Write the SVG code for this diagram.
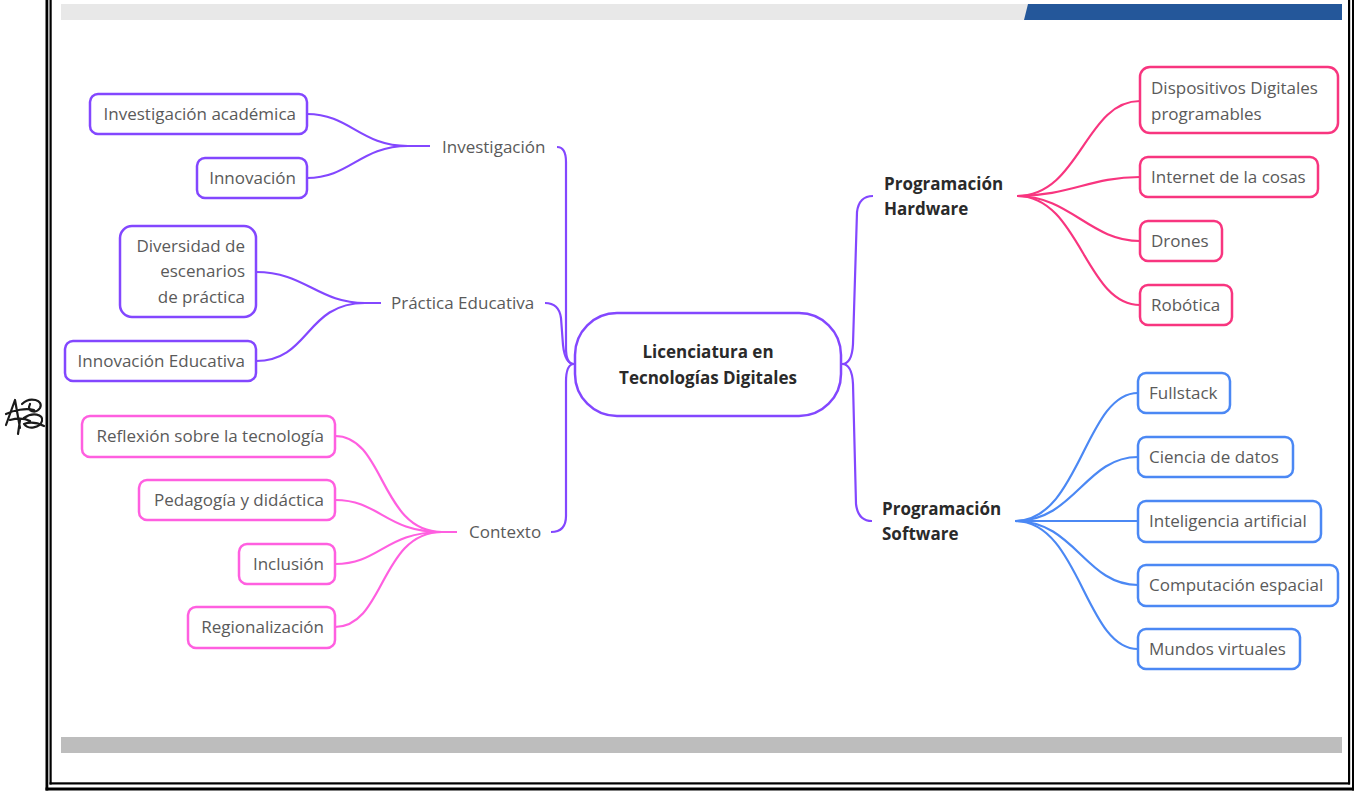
<svg xmlns="http://www.w3.org/2000/svg" width="1354" height="793" viewBox="0 0 1354 793">
<style>
.t{font-family:"Open Sans","Liberation Sans",sans-serif;font-size:17px;fill:#5a5a5a}
.b{font-family:"Open Sans","Liberation Sans",sans-serif;font-size:17px;font-weight:bold;fill:#2a2a2a}
.box{fill:#fff;stroke-width:2.5}
.pu{stroke:#8347ff}
.pk{stroke:#ff5fe0}
.hw{stroke:#f8357f}
.sw{stroke:#4b88f4}
.c{fill:none;stroke-width:2.2}
.r{text-anchor:end}
</style>
<rect width="1354" height="793" fill="#fff"/>
<g id="frame" fill="#000">
<rect x="45.5" y="0" width="2.8" height="790.5"/>
<rect x="49.5" y="0" width="2.2" height="784.5"/>
<rect x="45.5" y="787.5" width="1308.5" height="3"/>
<rect x="49.5" y="782.3" width="1300.5" height="2.2"/>
<rect x="1348" y="0" width="2.2" height="784.5"/>
<rect x="1352" y="0" width="2" height="790.5"/>
</g>
<g id="bars">
<rect x="61" y="4" width="970" height="16" fill="#e8e8e8"/>
<polygon points="1028,4 1342,4 1342,20 1024,20" fill="#24579a"/>
<rect x="61" y="737" width="1281" height="16" fill="#bdbdbd"/>
</g>
<g id="signature" fill="none" stroke="#1a1a1a" stroke-width="2.2" stroke-linecap="round" stroke-linejoin="round">
<path d="M6,425 L15,400 L20,428 M6,414 C14,410 26,408 34,410 M22,404 C30,396 44,400 40,408 C36,414 26,412 30,404 M24,418 C32,412 44,414 42,421 C40,428 28,430 24,424 C32,421 40,424 44,426 M20,420 L18,434 M10,420 C18,418 26,419 30,421"/>
</g>
<g id="connectors">
<path class="c pu" d="M574,364 Q566,364 566,348 L566,162 Q566,147 557,147"/>
<path class="c pu" d="M574,364 Q565,364 563,345 L561,318 Q559,303 545,303"/>
<path class="c pu" d="M574,364 Q566,364 566,382 L566,516 Q566,532 551,532"/>
<path class="c pu" d="M842,364 Q852,364 853,344 L857,212 Q859,196 873,196"/>
<path class="c pu" d="M842,364 Q852,364 853,384 L856,504 Q858,521 872,521"/>
<path class="c pu" d="M430,146 L408,146 C360,146 350,114 307,114"/>
<path class="c pu" d="M408,146 C360,146 350,178 307,178"/>
<path class="c pu" d="M381,303 L365,303 C318,303 305,272 256,272"/>
<path class="c pu" d="M365,303 C305,303 310,361 256,361"/>
<path class="c pk" d="M457,532 L442,532 C380,532 385,436 335,436"/>
<path class="c pk" d="M442,532 C385,532 380,500 335,500"/>
<path class="c pk" d="M442,532 C385,532 380,564 335,564"/>
<path class="c pk" d="M442,532 C380,532 385,627 335,627"/>
<path class="c hw" d="M1017,196 C1080,196 1085,101 1140,101"/>
<path class="c hw" d="M1017,196 C1070,196 1090,177 1140,177"/>
<path class="c hw" d="M1017,196 C1070,196 1090,241 1140,241"/>
<path class="c hw" d="M1017,196 C1080,196 1085,305 1140,305"/>
<path class="c sw" d="M1015,521 C1080,521 1085,393 1138,393"/>
<path class="c sw" d="M1015,521 C1075,521 1085,457 1138,457"/>
<path class="c sw" d="M1015,521 L1138,521"/>
<path class="c sw" d="M1015,521 C1075,521 1085,585 1138,585"/>
<path class="c sw" d="M1015,521 C1080,521 1085,649 1138,649"/>
</g>
<g id="center">
<rect class="box pu" x="575" y="313" width="266" height="103" rx="42"/>
<text class="b" x="708" y="358" text-anchor="middle">Licenciatura en</text>
<text class="b" x="708" y="384" text-anchor="middle">Tecnologías Digitales</text>
</g>
<g id="investigacion"><text class="t" x="442" y="153">Investigación</text></g>
<g id="practica"><text class="t" x="391" y="309">Práctica Educativa</text></g>
<g id="contexto"><text class="t" x="469" y="538">Contexto</text></g>
<g id="hardware"><text class="b" x="884" y="190">Programación</text><text class="b" x="884" y="215">Hardware</text></g>
<g id="software"><text class="b" x="882" y="515">Programación</text><text class="b" x="882" y="540">Software</text></g>
<g id="n-inv-acad"><rect class="box pu" x="90" y="94" width="217" height="40" rx="8"/><text class="t r" x="296" y="120">Investigación académica</text></g>
<g id="n-innov"><rect class="box pu" x="197" y="158" width="110" height="40" rx="8"/><text class="t r" x="296" y="184">Innovación</text></g>
<g id="n-divers"><rect class="box pu" x="120" y="226" width="136" height="91" rx="12"/><text class="t r" x="245" y="252">Diversidad de</text><text class="t r" x="245" y="277">escenarios</text><text class="t r" x="245" y="303">de práctica</text></g>
<g id="n-innov-edu"><rect class="box pu" x="65" y="341" width="191" height="40" rx="8"/><text class="t r" x="245" y="367">Innovación Educativa</text></g>
<g id="n-reflex"><rect class="box pk" x="82" y="416" width="253" height="41" rx="8"/><text class="t r" x="324" y="442">Reflexión sobre la tecnología</text></g>
<g id="n-pedag"><rect class="box pk" x="139" y="480" width="196" height="40" rx="8"/><text class="t r" x="324" y="506">Pedagogía y didáctica</text></g>
<g id="n-inclus"><rect class="box pk" x="239" y="544" width="96" height="40" rx="8"/><text class="t r" x="324" y="570">Inclusión</text></g>
<g id="n-region"><rect class="box pk" x="188" y="607" width="147" height="41" rx="8"/><text class="t r" x="324" y="633">Regionalización</text></g>
<g id="n-disp"><rect class="box hw" x="1140" y="67" width="198" height="66" rx="10"/><text class="t" x="1151" y="94">Dispositivos Digitales</text><text class="t" x="1151" y="120">programables</text></g>
<g id="n-iot"><rect class="box hw" x="1140" y="157" width="178" height="40" rx="8"/><text class="t" x="1151" y="183">Internet de la cosas</text></g>
<g id="n-drones"><rect class="box hw" x="1140" y="221" width="82" height="40" rx="8"/><text class="t" x="1151" y="247">Drones</text></g>
<g id="n-robot"><rect class="box hw" x="1140" y="285" width="92" height="40" rx="8"/><text class="t" x="1151" y="311">Robótica</text></g>
<g id="n-full"><rect class="box sw" x="1138" y="373" width="92" height="40" rx="8"/><text class="t" x="1149" y="399">Fullstack</text></g>
<g id="n-ciencia"><rect class="box sw" x="1138" y="437" width="155" height="40" rx="8"/><text class="t" x="1149" y="463">Ciencia de datos</text></g>
<g id="n-ia"><rect class="box sw" x="1138" y="501" width="183" height="41" rx="8"/><text class="t" x="1149" y="527">Inteligencia artificial</text></g>
<g id="n-comp"><rect class="box sw" x="1138" y="565" width="200" height="41" rx="8"/><text class="t" x="1149" y="591">Computación espacial</text></g>
<g id="n-mundos"><rect class="box sw" x="1138" y="629" width="162" height="40" rx="8"/><text class="t" x="1149" y="655">Mundos virtuales</text></g>
</svg>
